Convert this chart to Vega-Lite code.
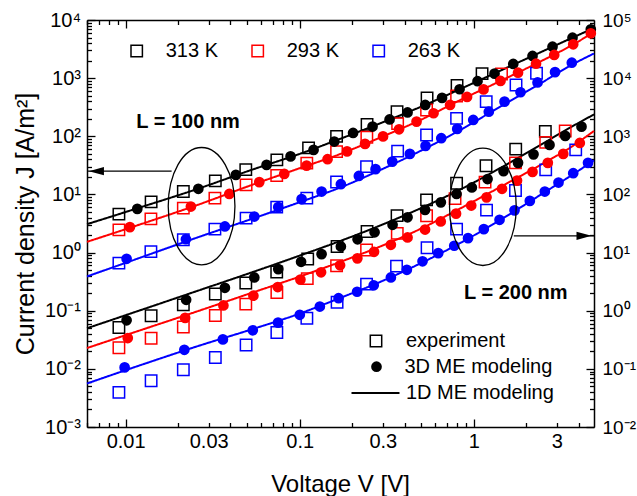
{
"$schema":"https://vega.github.io/schema/vega-lite/v6.json",
"width":507,"height":407,
"autosize":"none",
"padding":{"left":87,"top":20,"right":43,"bottom":69},
"config":{"view":{"stroke":null},"font":"Liberation Sans","mark":{"color":"black"},"legend":{"padding":0,"labelFont":"Liberation Sans","labelColor":"black","labelFontSize":20,"title":null},"axis":{"grid":false,"domainColor":"black","domainWidth":1.5,"tickColor":"black","tickWidth":1.3,"labelColor":"black","labelFont":"Liberation Sans","labelFlush":false,"labelOverlap":false,"labelBound":false,"titleColor":"black","titleFont":"Liberation Sans","titleFontWeight":"normal","zindex":1}},
"data":{"values":[
{"L":100,"T":"313 K","k":"experiment","V":0.00915,"J":4.58},{"L":100,"T":"313 K","k":"experiment","V":0.01401,"J":7.45},{"L":100,"T":"313 K","k":"experiment","V":0.02145,"J":11.2},{"L":100,"T":"313 K","k":"experiment","V":0.03275,"J":17.1},{"L":100,"T":"313 K","k":"experiment","V":0.049,"J":26.7},{"L":100,"T":"313 K","k":"experiment","V":0.0739,"J":39.3},{"L":100,"T":"313 K","k":"experiment","V":0.1124,"J":63.1},{"L":100,"T":"313 K","k":"experiment","V":0.1628,"J":99.5},{"L":100,"T":"313 K","k":"experiment","V":0.2436,"J":160},{"L":100,"T":"313 K","k":"experiment","V":0.3622,"J":265},{"L":100,"T":"313 K","k":"experiment","V":0.5387,"J":457},{"L":100,"T":"313 K","k":"experiment","V":0.8009,"J":748},{"L":100,"T":"313 K","k":"experiment","V":1.115,"J":1194},
{"L":100,"T":"313 K","k":"3D ME modeling","V":0.01167,"J":5.65},{"L":100,"T":"313 K","k":"3D ME modeling","V":0.02616,"J":12.5},{"L":100,"T":"313 K","k":"3D ME modeling","V":0.04298,"J":21.7},{"L":100,"T":"313 K","k":"3D ME modeling","V":0.06451,"J":32.2},{"L":100,"T":"313 K","k":"3D ME modeling","V":0.08859,"J":45.1},{"L":100,"T":"313 K","k":"3D ME modeling","V":0.1201,"J":58.3},{"L":100,"T":"313 K","k":"3D ME modeling","V":0.1579,"J":81.1},{"L":100,"T":"313 K","k":"3D ME modeling","V":0.2025,"J":114},{"L":100,"T":"313 K","k":"3D ME modeling","V":0.262,"J":147},{"L":100,"T":"313 K","k":"3D ME modeling","V":0.3281,"J":195},{"L":100,"T":"313 K","k":"3D ME modeling","V":0.4162,"J":257},{"L":100,"T":"313 K","k":"3D ME modeling","V":0.5259,"J":346},{"L":100,"T":"313 K","k":"3D ME modeling","V":0.6567,"J":457},{"L":100,"T":"313 K","k":"3D ME modeling","V":0.828,"J":644},{"L":100,"T":"313 K","k":"3D ME modeling","V":1.05,"J":887},{"L":100,"T":"313 K","k":"3D ME modeling","V":1.315,"J":1194},{"L":100,"T":"313 K","k":"3D ME modeling","V":1.684,"J":1754},{"L":100,"T":"313 K","k":"3D ME modeling","V":2.173,"J":2406},{"L":100,"T":"313 K","k":"3D ME modeling","V":2.831,"J":3475},{"L":100,"T":"313 K","k":"3D ME modeling","V":3.688,"J":4966},{"L":100,"T":"313 K","k":"3D ME modeling","V":4.697,"J":6920},
{"L":100,"T":"313 K","k":"1D ME modeling","V":0.006,"J":3.08},{"L":100,"T":"313 K","k":"1D ME modeling","V":0.01167,"J":5.77},{"L":100,"T":"313 K","k":"1D ME modeling","V":0.02696,"J":12.97},{"L":100,"T":"313 K","k":"1D ME modeling","V":0.05222,"J":26.1},{"L":100,"T":"313 K","k":"1D ME modeling","V":0.1011,"J":50.4},{"L":100,"T":"313 K","k":"1D ME modeling","V":0.1716,"J":90.9},{"L":100,"T":"313 K","k":"1D ME modeling","V":0.2913,"J":168},{"L":100,"T":"313 K","k":"1D ME modeling","V":0.4943,"J":320},{"L":100,"T":"313 K","k":"1D ME modeling","V":0.8387,"J":652},{"L":100,"T":"313 K","k":"1D ME modeling","V":1.423,"J":1349},{"L":100,"T":"313 K","k":"1D ME modeling","V":2.415,"J":2786},{"L":100,"T":"313 K","k":"1D ME modeling","V":3.592,"J":4790},{"L":100,"T":"313 K","k":"1D ME modeling","V":4.9,"J":7290},
{"L":100,"T":"293 K","k":"experiment","V":0.00915,"J":2.46},{"L":100,"T":"293 K","k":"experiment","V":0.01397,"J":3.8},{"L":100,"T":"293 K","k":"experiment","V":0.02145,"J":5.81},{"L":100,"T":"293 K","k":"experiment","V":0.03257,"J":8.63},{"L":100,"T":"293 K","k":"experiment","V":0.0492,"J":14.6},{"L":100,"T":"293 K","k":"experiment","V":0.07376,"J":21.1},{"L":100,"T":"293 K","k":"experiment","V":0.1098,"J":34.5},{"L":100,"T":"293 K","k":"experiment","V":0.1628,"J":54.5},{"L":100,"T":"293 K","k":"experiment","V":0.2429,"J":96.4},{"L":100,"T":"293 K","k":"experiment","V":0.365,"J":165},{"L":100,"T":"293 K","k":"experiment","V":0.5352,"J":284},{"L":100,"T":"293 K","k":"experiment","V":0.796,"J":494},{"L":100,"T":"293 K","k":"experiment","V":1.442,"J":1180},
{"L":100,"T":"293 K","k":"3D ME modeling","V":0.01058,"J":2.74},{"L":100,"T":"293 K","k":"3D ME modeling","V":0.02371,"J":6.19},{"L":100,"T":"293 K","k":"3D ME modeling","V":0.03939,"J":10.2},{"L":100,"T":"293 K","k":"3D ME modeling","V":0.05857,"J":16.3},{"L":100,"T":"293 K","k":"3D ME modeling","V":0.08151,"J":22.6},{"L":100,"T":"293 K","k":"3D ME modeling","V":0.1095,"J":31.3},{"L":100,"T":"293 K","k":"3D ME modeling","V":0.1445,"J":40.4},{"L":100,"T":"293 K","k":"3D ME modeling","V":0.187,"J":55},{"L":100,"T":"293 K","k":"3D ME modeling","V":0.2372,"J":74},{"L":100,"T":"293 K","k":"3D ME modeling","V":0.301,"J":99.5},{"L":100,"T":"293 K","k":"3D ME modeling","V":0.3719,"J":132},{"L":100,"T":"293 K","k":"3D ME modeling","V":0.4688,"J":179},{"L":100,"T":"293 K","k":"3D ME modeling","V":0.5869,"J":249},{"L":100,"T":"293 K","k":"3D ME modeling","V":0.7303,"J":346},{"L":100,"T":"293 K","k":"3D ME modeling","V":0.9142,"J":475},{"L":100,"T":"293 K","k":"3D ME modeling","V":1.137,"J":640},{"L":100,"T":"293 K","k":"3D ME modeling","V":1.423,"J":895},{"L":100,"T":"293 K","k":"3D ME modeling","V":1.794,"J":1242},{"L":100,"T":"293 K","k":"3D ME modeling","V":2.276,"J":1774},{"L":100,"T":"293 K","k":"3D ME modeling","V":2.895,"J":2504},{"L":100,"T":"293 K","k":"3D ME modeling","V":3.722,"J":3823},{"L":100,"T":"293 K","k":"3D ME modeling","V":4.697,"J":5908},
{"L":100,"T":"293 K","k":"1D ME modeling","V":0.006,"J":1.53},{"L":100,"T":"293 K","k":"1D ME modeling","V":0.01167,"J":2.94},{"L":100,"T":"293 K","k":"1D ME modeling","V":0.02696,"J":6.89},{"L":100,"T":"293 K","k":"1D ME modeling","V":0.05222,"J":14.3},{"L":100,"T":"293 K","k":"1D ME modeling","V":0.1011,"J":28.6},{"L":100,"T":"293 K","k":"1D ME modeling","V":0.1716,"J":49.8},{"L":100,"T":"293 K","k":"1D ME modeling","V":0.2913,"J":95.7},{"L":100,"T":"293 K","k":"1D ME modeling","V":0.4943,"J":191},{"L":100,"T":"293 K","k":"1D ME modeling","V":0.8387,"J":422},{"L":100,"T":"293 K","k":"1D ME modeling","V":1.423,"J":895},{"L":100,"T":"293 K","k":"1D ME modeling","V":2.415,"J":1936},{"L":100,"T":"293 K","k":"1D ME modeling","V":3.592,"J":3575},{"L":100,"T":"293 K","k":"1D ME modeling","V":4.9,"J":6215},
{"L":100,"T":"263 K","k":"experiment","V":0.00915,"J":0.659},{"L":100,"T":"263 K","k":"experiment","V":0.01397,"J":1.04},{"L":100,"T":"263 K","k":"experiment","V":0.02145,"J":1.66},{"L":100,"T":"263 K","k":"experiment","V":0.03257,"J":2.53},{"L":100,"T":"263 K","k":"experiment","V":0.0492,"J":3.91},{"L":100,"T":"263 K","k":"experiment","V":0.07376,"J":6.04},{"L":100,"T":"263 K","k":"experiment","V":0.1098,"J":8.63},{"L":100,"T":"263 K","k":"experiment","V":0.1628,"J":16.4},{"L":100,"T":"263 K","k":"experiment","V":0.242,"J":30.1},{"L":100,"T":"263 K","k":"experiment","V":0.365,"J":55.6},{"L":100,"T":"263 K","k":"experiment","V":0.5352,"J":105},{"L":100,"T":"263 K","k":"experiment","V":0.796,"J":203},{"L":100,"T":"263 K","k":"experiment","V":1.178,"J":394},{"L":100,"T":"263 K","k":"experiment","V":1.747,"J":764},{"L":100,"T":"263 K","k":"experiment","V":2.291,"J":1213},
{"L":100,"T":"263 K","k":"3D ME modeling","V":0.01013,"J":0.781},{"L":100,"T":"263 K","k":"3D ME modeling","V":0.0222,"J":1.7},{"L":100,"T":"263 K","k":"3D ME modeling","V":0.03717,"J":2.81},{"L":100,"T":"263 K","k":"3D ME modeling","V":0.05483,"J":4.17},{"L":100,"T":"263 K","k":"3D ME modeling","V":0.07529,"J":6.04},{"L":100,"T":"263 K","k":"3D ME modeling","V":0.1025,"J":8.29},{"L":100,"T":"263 K","k":"3D ME modeling","V":0.1335,"J":11.2},{"L":100,"T":"263 K","k":"3D ME modeling","V":0.1723,"J":15},{"L":100,"T":"263 K","k":"3D ME modeling","V":0.2186,"J":20.8},{"L":100,"T":"263 K","k":"3D ME modeling","V":0.2726,"J":27.2},{"L":100,"T":"263 K","k":"3D ME modeling","V":0.34,"J":36.7},{"L":100,"T":"263 K","k":"3D ME modeling","V":0.429,"J":49.8},{"L":100,"T":"263 K","k":"3D ME modeling","V":0.528,"J":68.4},{"L":100,"T":"263 K","k":"3D ME modeling","V":0.65,"J":92.7},{"L":100,"T":"263 K","k":"3D ME modeling","V":0.8029,"J":134},{"L":100,"T":"263 K","k":"3D ME modeling","V":0.9921,"J":191},{"L":100,"T":"263 K","k":"3D ME modeling","V":1.219,"J":265},{"L":100,"T":"263 K","k":"3D ME modeling","V":1.501,"J":394},{"L":100,"T":"263 K","k":"3D ME modeling","V":1.854,"J":572},{"L":100,"T":"263 K","k":"3D ME modeling","V":2.322,"J":843},{"L":100,"T":"263 K","k":"3D ME modeling","V":2.927,"J":1267},{"L":100,"T":"263 K","k":"3D ME modeling","V":3.654,"J":1845},
{"L":100,"T":"263 K","k":"1D ME modeling","V":0.006,"J":0.388},{"L":100,"T":"263 K","k":"1D ME modeling","V":0.01167,"J":0.784},{"L":100,"T":"263 K","k":"1D ME modeling","V":0.02696,"J":1.9},{"L":100,"T":"263 K","k":"1D ME modeling","V":0.05222,"J":3.73},{"L":100,"T":"263 K","k":"1D ME modeling","V":0.1011,"J":7.45},{"L":100,"T":"263 K","k":"1D ME modeling","V":0.1716,"J":13.2},{"L":100,"T":"263 K","k":"1D ME modeling","V":0.2913,"J":26.4},{"L":100,"T":"263 K","k":"1D ME modeling","V":0.4943,"J":56.1},{"L":100,"T":"263 K","k":"1D ME modeling","V":0.8387,"J":129},{"L":100,"T":"263 K","k":"1D ME modeling","V":1.423,"J":326},{"L":100,"T":"263 K","k":"1D ME modeling","V":2.415,"J":811},{"L":100,"T":"263 K","k":"1D ME modeling","V":3.592,"J":1652},{"L":100,"T":"263 K","k":"1D ME modeling","V":4.9,"J":2655},
{"L":200,"T":"313 K","k":"experiment","V":0.00915,"J":0.515},{"L":200,"T":"313 K","k":"experiment","V":0.01401,"J":0.818},{"L":200,"T":"313 K","k":"experiment","V":0.02145,"J":1.26},{"L":200,"T":"313 K","k":"experiment","V":0.03275,"J":1.94},{"L":200,"T":"313 K","k":"experiment","V":0.049,"J":2.99},{"L":200,"T":"313 K","k":"experiment","V":0.07376,"J":4.63},{"L":200,"T":"313 K","k":"experiment","V":0.1111,"J":7.74},{"L":200,"T":"313 K","k":"experiment","V":0.1639,"J":12.7},{"L":200,"T":"313 K","k":"experiment","V":0.2436,"J":23},{"L":200,"T":"313 K","k":"experiment","V":0.3622,"J":43.2},{"L":200,"T":"313 K","k":"experiment","V":0.5352,"J":80.7},{"L":200,"T":"313 K","k":"experiment","V":0.796,"J":156},{"L":200,"T":"313 K","k":"experiment","V":1.175,"J":312},{"L":200,"T":"313 K","k":"experiment","V":1.74,"J":602},{"L":200,"T":"313 K","k":"experiment","V":2.574,"J":1213},
{"L":200,"T":"313 K","k":"3D ME modeling","V":0.01013,"J":0.685},{"L":200,"T":"313 K","k":"3D ME modeling","V":0.02226,"J":1.54},{"L":200,"T":"313 K","k":"3D ME modeling","V":0.03717,"J":2.48},{"L":200,"T":"313 K","k":"3D ME modeling","V":0.05483,"J":3.73},{"L":200,"T":"313 K","k":"3D ME modeling","V":0.07529,"J":5.2},{"L":200,"T":"313 K","k":"3D ME modeling","V":0.1018,"J":6.94},{"L":200,"T":"313 K","k":"3D ME modeling","V":0.1335,"J":9.41},{"L":200,"T":"313 K","k":"3D ME modeling","V":0.1723,"J":12.7},{"L":200,"T":"313 K","k":"3D ME modeling","V":0.2149,"J":16.9},{"L":200,"T":"313 K","k":"3D ME modeling","V":0.2691,"J":22.3},{"L":200,"T":"313 K","k":"3D ME modeling","V":0.3414,"J":30},{"L":200,"T":"313 K","k":"3D ME modeling","V":0.4162,"J":40.4},{"L":200,"T":"313 K","k":"3D ME modeling","V":0.5246,"J":54.3},{"L":200,"T":"313 K","k":"3D ME modeling","V":0.6465,"J":73.1},{"L":200,"T":"313 K","k":"3D ME modeling","V":0.7956,"J":102},{"L":200,"T":"313 K","k":"3D ME modeling","V":0.9739,"J":132},{"L":200,"T":"313 K","k":"3D ME modeling","V":1.199,"J":184},{"L":200,"T":"313 K","k":"3D ME modeling","V":1.481,"J":252},{"L":200,"T":"313 K","k":"3D ME modeling","V":1.794,"J":349},{"L":200,"T":"313 K","k":"3D ME modeling","V":2.202,"J":489},{"L":200,"T":"313 K","k":"3D ME modeling","V":2.721,"J":711},{"L":200,"T":"313 K","k":"3D ME modeling","V":3.349,"J":1016},{"L":200,"T":"313 K","k":"3D ME modeling","V":4.153,"J":1466},
{"L":200,"T":"313 K","k":"1D ME modeling","V":0.006,"J":0.499},{"L":200,"T":"313 K","k":"1D ME modeling","V":0.01167,"J":0.979},{"L":200,"T":"313 K","k":"1D ME modeling","V":0.02696,"J":2.29},{"L":200,"T":"313 K","k":"1D ME modeling","V":0.05222,"J":4.49},{"L":200,"T":"313 K","k":"1D ME modeling","V":0.1011,"J":8.97},{"L":200,"T":"313 K","k":"1D ME modeling","V":0.1716,"J":15.9},{"L":200,"T":"313 K","k":"1D ME modeling","V":0.2913,"J":29.4},{"L":200,"T":"313 K","k":"1D ME modeling","V":0.4943,"J":57.7},{"L":200,"T":"313 K","k":"1D ME modeling","V":0.8387,"J":122},{"L":200,"T":"313 K","k":"1D ME modeling","V":1.423,"J":286},{"L":200,"T":"313 K","k":"1D ME modeling","V":2.415,"J":711},{"L":200,"T":"313 K","k":"1D ME modeling","V":3.592,"J":1422},{"L":200,"T":"313 K","k":"1D ME modeling","V":4.9,"J":2377},
{"L":200,"T":"293 K","k":"experiment","V":0.00915,"J":0.231},{"L":200,"T":"293 K","k":"experiment","V":0.01401,"J":0.336},{"L":200,"T":"293 K","k":"experiment","V":0.02145,"J":0.526},{"L":200,"T":"293 K","k":"experiment","V":0.03275,"J":0.826},{"L":200,"T":"293 K","k":"experiment","V":0.049,"J":1.3},{"L":200,"T":"293 K","k":"experiment","V":0.0739,"J":2.06},{"L":200,"T":"293 K","k":"experiment","V":0.1105,"J":3.56},{"L":200,"T":"293 K","k":"experiment","V":0.1628,"J":5.92},{"L":200,"T":"293 K","k":"experiment","V":0.242,"J":11.1},{"L":200,"T":"293 K","k":"experiment","V":0.3633,"J":21.4},{"L":200,"T":"293 K","k":"experiment","V":0.5352,"J":42.9},{"L":200,"T":"293 K","k":"experiment","V":0.7799,"J":84.6},{"L":200,"T":"293 K","k":"experiment","V":1.16,"J":163},{"L":200,"T":"293 K","k":"experiment","V":1.735,"J":349},{"L":200,"T":"293 K","k":"experiment","V":2.587,"J":785},{"L":200,"T":"293 K","k":"experiment","V":3.349,"J":1236},
{"L":200,"T":"293 K","k":"3D ME modeling","V":0.01029,"J":0.339},{"L":200,"T":"293 K","k":"3D ME modeling","V":0.02197,"J":0.753},{"L":200,"T":"293 K","k":"3D ME modeling","V":0.03644,"J":1.23},{"L":200,"T":"293 K","k":"3D ME modeling","V":0.05418,"J":1.81},{"L":200,"T":"293 K","k":"3D ME modeling","V":0.07481,"J":2.55},{"L":200,"T":"293 K","k":"3D ME modeling","V":0.1009,"J":3.43},{"L":200,"T":"293 K","k":"3D ME modeling","V":0.1326,"J":4.58},{"L":200,"T":"293 K","k":"3D ME modeling","V":0.1705,"J":6.04},{"L":200,"T":"293 K","k":"3D ME modeling","V":0.2143,"J":7.96},{"L":200,"T":"293 K","k":"3D ME modeling","V":0.2672,"J":10.3},{"L":200,"T":"293 K","k":"3D ME modeling","V":0.3338,"J":13.6},{"L":200,"T":"293 K","k":"3D ME modeling","V":0.4162,"J":18.2},{"L":200,"T":"293 K","k":"3D ME modeling","V":0.5246,"J":24.9},{"L":200,"T":"293 K","k":"3D ME modeling","V":0.6456,"J":34.3},{"L":200,"T":"293 K","k":"3D ME modeling","V":0.7903,"J":46.7},{"L":200,"T":"293 K","k":"3D ME modeling","V":0.9662,"J":64.4},{"L":200,"T":"293 K","k":"3D ME modeling","V":1.183,"J":89.1},{"L":200,"T":"293 K","k":"3D ME modeling","V":1.452,"J":125},{"L":200,"T":"293 K","k":"3D ME modeling","V":1.77,"J":173},{"L":200,"T":"293 K","k":"3D ME modeling","V":2.173,"J":244},{"L":200,"T":"293 K","k":"3D ME modeling","V":2.66,"J":349},{"L":200,"T":"293 K","k":"3D ME modeling","V":3.262,"J":498},{"L":200,"T":"293 K","k":"3D ME modeling","V":4.062,"J":769},
{"L":200,"T":"293 K","k":"1D ME modeling","V":0.006,"J":0.228},{"L":200,"T":"293 K","k":"1D ME modeling","V":0.01167,"J":0.443},{"L":200,"T":"293 K","k":"1D ME modeling","V":0.02696,"J":1.02},{"L":200,"T":"293 K","k":"1D ME modeling","V":0.05222,"J":2},{"L":200,"T":"293 K","k":"1D ME modeling","V":0.1011,"J":3.91},{"L":200,"T":"293 K","k":"1D ME modeling","V":0.1716,"J":6.94},{"L":200,"T":"293 K","k":"1D ME modeling","V":0.2913,"J":12.8},{"L":200,"T":"293 K","k":"1D ME modeling","V":0.4943,"J":25.6},{"L":200,"T":"293 K","k":"1D ME modeling","V":0.8387,"J":57.7},{"L":200,"T":"293 K","k":"1D ME modeling","V":1.423,"J":135},{"L":200,"T":"293 K","k":"1D ME modeling","V":2.415,"J":322},{"L":200,"T":"293 K","k":"1D ME modeling","V":3.592,"J":644},{"L":200,"T":"293 K","k":"1D ME modeling","V":4.9,"J":1236},
{"L":200,"T":"263 K","k":"experiment","V":0.00915,"J":0.0394},{"L":200,"T":"263 K","k":"experiment","V":0.01401,"J":0.0625},{"L":200,"T":"263 K","k":"experiment","V":0.02145,"J":0.0966},{"L":200,"T":"263 K","k":"experiment","V":0.03275,"J":0.157},{"L":200,"T":"263 K","k":"experiment","V":0.0492,"J":0.258},{"L":200,"T":"263 K","k":"experiment","V":0.0739,"J":0.423},{"L":200,"T":"263 K","k":"experiment","V":0.1099,"J":0.741},{"L":200,"T":"263 K","k":"experiment","V":0.1639,"J":1.4},{"L":200,"T":"263 K","k":"experiment","V":0.242,"J":2.87},{"L":200,"T":"263 K","k":"experiment","V":0.3597,"J":5.85},{"L":200,"T":"263 K","k":"experiment","V":0.5387,"J":12.1},{"L":200,"T":"263 K","k":"experiment","V":0.796,"J":25.3},{"L":200,"T":"263 K","k":"experiment","V":1.183,"J":53.7},{"L":200,"T":"263 K","k":"experiment","V":1.735,"J":117},{"L":200,"T":"263 K","k":"experiment","V":2.587,"J":264},{"L":200,"T":"263 K","k":"experiment","V":3.847,"J":583},
{"L":200,"T":"263 K","k":"3D ME modeling","V":0.00987,"J":0.106},{"L":200,"T":"263 K","k":"3D ME modeling","V":0.02174,"J":0.213},{"L":200,"T":"263 K","k":"3D ME modeling","V":0.0362,"J":0.321},{"L":200,"T":"263 K","k":"3D ME modeling","V":0.05375,"J":0.461},{"L":200,"T":"263 K","k":"3D ME modeling","V":0.0751,"J":0.625},{"L":200,"T":"263 K","k":"3D ME modeling","V":0.1001,"J":0.851},{"L":200,"T":"263 K","k":"3D ME modeling","V":0.1305,"J":1.18},{"L":200,"T":"263 K","k":"3D ME modeling","V":0.1671,"J":1.64},{"L":200,"T":"263 K","k":"3D ME modeling","V":0.2135,"J":2.12},{"L":200,"T":"263 K","k":"3D ME modeling","V":0.2661,"J":2.74},{"L":200,"T":"263 K","k":"3D ME modeling","V":0.3338,"J":3.73},{"L":200,"T":"263 K","k":"3D ME modeling","V":0.4124,"J":5.06},{"L":200,"T":"263 K","k":"3D ME modeling","V":0.5074,"J":7.08},{"L":200,"T":"263 K","k":"3D ME modeling","V":0.6245,"J":9.79},{"L":200,"T":"263 K","k":"3D ME modeling","V":0.7718,"J":13.1},{"L":200,"T":"263 K","k":"3D ME modeling","V":0.9262,"J":17.7},{"L":200,"T":"263 K","k":"3D ME modeling","V":1.141,"J":25.3},{"L":200,"T":"263 K","k":"3D ME modeling","V":1.405,"J":36.6},{"L":200,"T":"263 K","k":"3D ME modeling","V":1.713,"J":53.2},{"L":200,"T":"263 K","k":"3D ME modeling","V":2.097,"J":77.4},{"L":200,"T":"263 K","k":"3D ME modeling","V":2.557,"J":112},{"L":200,"T":"263 K","k":"3D ME modeling","V":3.064,"J":160},{"L":200,"T":"263 K","k":"3D ME modeling","V":3.722,"J":232},{"L":200,"T":"263 K","k":"3D ME modeling","V":4.527,"J":349},
{"L":200,"T":"263 K","k":"1D ME modeling","V":0.006,"J":0.056},{"L":200,"T":"263 K","k":"1D ME modeling","V":0.01167,"J":0.111},{"L":200,"T":"263 K","k":"1D ME modeling","V":0.02696,"J":0.255},{"L":200,"T":"263 K","k":"1D ME modeling","V":0.05222,"J":0.471},{"L":200,"T":"263 K","k":"1D ME modeling","V":0.1011,"J":0.904},{"L":200,"T":"263 K","k":"1D ME modeling","V":0.1716,"J":1.67},{"L":200,"T":"263 K","k":"1D ME modeling","V":0.2913,"J":3.15},{"L":200,"T":"263 K","k":"1D ME modeling","V":0.4943,"J":6.53},{"L":200,"T":"263 K","k":"1D ME modeling","V":0.8387,"J":14.7},{"L":200,"T":"263 K","k":"1D ME modeling","V":1.423,"J":36.6},{"L":200,"T":"263 K","k":"1D ME modeling","V":2.415,"J":98.4},{"L":200,"T":"263 K","k":"1D ME modeling","V":3.592,"J":208},{"L":200,"T":"263 K","k":"1D ME modeling","V":4.9,"J":385}
]},
"resolve":{"scale":{"y":"independent"},"axis":{"x":"independent","y":"independent"}},
"layer":[
{"transform":[{"filter":"datum.L==100 && datum.k=='1D ME modeling'"}],
 "mark":{"type":"line","strokeWidth":2,"interpolate":"monotone"},
 "encoding":{
  "x":{"field":"V","type":"quantitative","scale":{"type":"log","domain":[0.006,4.9],"nice":false},
   "axis":{"orient":"bottom","values":[0.006,0.007,0.008,0.009,0.01,0.02,0.03,0.04,0.05,0.06,0.07,0.08,0.09,0.1,0.2,0.3,0.4,0.5,0.6,0.7,0.8,0.9,1,2,3,4],
    "tickSize":{"condition":{"test":"indexof([0.01,0.1,1],datum.value)>=0","value":-8},"value":-4.5},
    "labelPadding":{"condition":{"test":"indexof([0.01,0.1,1],datum.value)>=0","value":12},"value":8.5},
    "labelExpr":"indexof([0.01,0.03,0.1,0.3,1,3],datum.value)>=0 ? format(datum.value,'~g') : ''",
    "labelFontSize":20,"title":"Voltage V [V]","titleFontSize":24,"titleBaseline":"alphabetic","titleX":253,"titleY":64}},
  "y":{"field":"J","type":"quantitative","scale":{"type":"log","domain":[0.001,10000],"nice":false},
   "axis":{"orient":"left","values":[0.001,0.002,0.003,0.004,0.005,0.006,0.007,0.008,0.009,0.01,0.02,0.03,0.04,0.05,0.06,0.07,0.08,0.09,0.1,0.2,0.3,0.4,0.5,0.6,0.7,0.8,0.9,1,2,3,4,5,6,7,8,9,10,20,30,40,50,60,70,80,90,100,200,300,400,500,600,700,800,900,1000,2000,3000,4000,5000,6000,7000,8000,9000,10000],
    "tickSize":{"condition":{"test":"abs(log(datum.value)/LN10-round(log(datum.value)/LN10))<0.000001","value":-8},"value":-4.5},
    "labelPadding":14.5,
    "labelExpr":"abs(log(datum.value)/LN10-round(log(datum.value)/LN10))<0.000001 ? '10'+['⁻³','⁻²','⁻¹','⁰','¹','²','³','⁴','⁵'][round(log(datum.value)/LN10)+3] : ''",
    "labelFontSize":20,"title":"Current density J [A/m²]","titleFontSize":25,"titleBaseline":"alphabetic","titleAngle":-90,"titleX":-54,"titleY":203.5}},
  "stroke":{"field":"T","type":"nominal","scale":{"domain":["293 K","313 K","263 K"],"range":["#ff0000","#000000","#0000ff"]},"legend":null},
  "strokeDash":{"field":"k","type":"nominal","scale":{"domain":["1D ME modeling"],"range":[[1,0]]},
   "legend":{"orient":"none","legendX":263.5,"legendY":348,"symbolType":"stroke","symbolSize":2304,"symbolStrokeWidth":2,"symbolStrokeColor":"black","labelOffset":5.5}}}},
{"transform":[{"filter":"datum.L==100 && datum.k=='experiment'"}],
 "mark":{"type":"point","filled":false,"size":130,"strokeWidth":1.5,"opacity":1},
 "encoding":{
  "x":{"field":"V","type":"quantitative","scale":{"type":"log","domain":[0.006,4.9],"nice":false},
   "axis":{"orient":"top","values":[0.006,0.007,0.008,0.009,0.01,0.02,0.03,0.04,0.05,0.06,0.07,0.08,0.09,0.1,0.2,0.3,0.4,0.5,0.6,0.7,0.8,0.9,1,2,3,4],
    "tickSize":{"condition":{"test":"indexof([0.01,0.1,1],datum.value)>=0","value":-8},"value":-4.5},
    "labels":false,"title":null}},
  "y":{"field":"J","type":"quantitative","scale":{"type":"log","domain":[0.001,10000],"nice":false},"axis":null},
  "color":{"field":"T","type":"nominal","scale":{"domain":["313 K","293 K","263 K"],"range":["#000000","#ff0000","#0000ff"]},
   "legend":{"orient":"none","legendX":39.7,"legendY":21,"direction":"horizontal","symbolType":"square","symbolSize":130,"symbolStrokeWidth":1.5,"symbolFillColor":"transparent","labelOffset":19,"columnPadding":29}},
  "shape":{"field":"k","type":"nominal","scale":{"domain":["experiment"],"range":["square"]},
   "legend":{"orient":"none","legendX":279,"legendY":311,"symbolSize":130,"symbolStrokeWidth":1.5,"symbolStrokeColor":"black","symbolFillColor":"transparent","labelOffset":20}}}},
{"transform":[{"filter":"datum.L==100 && datum.k=='3D ME modeling'"}],
 "mark":{"type":"circle","opacity":1},
 "encoding":{
  "x":{"field":"V","type":"quantitative","scale":{"type":"log","domain":[0.006,4.9],"nice":false},"axis":null},
  "y":{"field":"J","type":"quantitative","scale":{"type":"log","domain":[0.001,10000],"nice":false},"axis":null},
  "fill":{"field":"T","type":"nominal","scale":{"domain":["263 K","293 K","313 K"],"range":["#0000ff","#ff0000","#000000"]},"legend":null},
  "size":{"field":"k","type":"ordinal","scale":{"domain":["3D ME modeling"],"range":[115,115]},
   "legend":{"orient":"none","legendX":279.5,"legendY":336.7,"symbolType":"circle","symbolFillColor":"black","symbolStrokeColor":"transparent","labelOffset":18}}}},
{"transform":[{"filter":"datum.L==200 && datum.k=='1D ME modeling'"}],
 "mark":{"type":"line","strokeWidth":2,"interpolate":"monotone"},
 "encoding":{
  "x":{"field":"V","type":"quantitative","scale":{"type":"log","domain":[0.006,4.9],"nice":false},"axis":null},
  "y":{"field":"J","type":"quantitative","scale":{"type":"log","domain":[0.01,100000],"nice":false},
   "axis":{"orient":"right","values":[0.01,0.02,0.03,0.04,0.05,0.06,0.07,0.08,0.09,0.1,0.2,0.3,0.4,0.5,0.6,0.7,0.8,0.9,1,2,3,4,5,6,7,8,9,10,20,30,40,50,60,70,80,90,100,200,300,400,500,600,700,800,900,1000,2000,3000,4000,5000,6000,7000,8000,9000,10000,20000,30000,40000,50000,60000,70000,80000,90000,100000],
    "tickSize":{"condition":{"test":"abs(log(datum.value)/LN10-round(log(datum.value)/LN10))<0.000001","value":-8},"value":-4.5},
    "labelPadding":16,
    "labelExpr":"abs(log(datum.value)/LN10-round(log(datum.value)/LN10))<0.000001 ? '10'+['⁻³','⁻²','⁻¹','⁰','¹','²','³','⁴','⁵'][round(log(datum.value)/LN10)+3] : ''",
    "labelFontSize":19,"title":null}},
  "stroke":{"field":"T","type":"nominal","scale":{"domain":["293 K","313 K","263 K"],"range":["#ff0000","#000000","#0000ff"]},"legend":null},
  "strokeDash":{"field":"k","type":"nominal","scale":{"domain":["1D ME modeling"],"range":[[1,0]]}}}},
{"transform":[{"filter":"datum.L==200 && datum.k=='experiment'"}],
 "mark":{"type":"point","filled":false,"size":130,"strokeWidth":1.5,"opacity":1},
 "encoding":{
  "x":{"field":"V","type":"quantitative","scale":{"type":"log","domain":[0.006,4.9],"nice":false},"axis":null},
  "y":{"field":"J","type":"quantitative","scale":{"type":"log","domain":[0.01,100000],"nice":false},"axis":null},
  "color":{"field":"T","type":"nominal","scale":{"domain":["313 K","293 K","263 K"],"range":["#000000","#ff0000","#0000ff"]}},
  "shape":{"field":"k","type":"nominal","scale":{"domain":["experiment"],"range":["square"]}}}},
{"transform":[{"filter":"datum.L==200 && datum.k=='3D ME modeling'"}],
 "mark":{"type":"circle","opacity":1},
 "encoding":{
  "x":{"field":"V","type":"quantitative","scale":{"type":"log","domain":[0.006,4.9],"nice":false},"axis":null},
  "y":{"field":"J","type":"quantitative","scale":{"type":"log","domain":[0.01,100000],"nice":false},"axis":null},
  "fill":{"field":"T","type":"nominal","scale":{"domain":["263 K","293 K","313 K"],"range":["#0000ff","#ff0000","#000000"]},"legend":null},
  "size":{"field":"k","type":"ordinal","scale":{"domain":["3D ME modeling"],"range":[115,115]}}}},
{"data":{"values":[{"V":0.02731,"J":6.29},{"V":1.127,"J":6.11}]},
 "mark":{"type":"point","shape":"M -0.5686 0 A 0.5686 1 0 1 0 0.5686 0 A 0.5686 1 0 1 0 -0.5686 0 Z","size":13759,"filled":false,"color":"black","strokeWidth":1.3,"opacity":1},
 "encoding":{
  "x":{"field":"V","type":"quantitative","scale":{"type":"log","domain":[0.006,4.9],"nice":false},"axis":null},
  "y":{"field":"J","type":"quantitative","scale":{"type":"log","domain":[0.001,10000],"nice":false},"axis":null}}},
{"data":{"values":[{"V":0.006,"V2":0.01837,"J":25.1},{"V":1.697,"V2":4.9,"J":1.94}]},
 "mark":{"type":"rule","color":"black","strokeWidth":1.3},
 "encoding":{
  "x":{"field":"V","type":"quantitative","scale":{"type":"log","domain":[0.006,4.9],"nice":false},"axis":null},
  "x2":{"field":"V2"},
  "y":{"field":"J","type":"quantitative","scale":{"type":"log","domain":[0.001,10000],"nice":false},"axis":null}}},
{"data":{"values":[{"V":0.006795,"J":25.1}]},
 "mark":{"type":"point","shape":"M -1 0 L 1 -0.55 L 1 0.55 Z","size":225,"filled":true,"color":"black","opacity":1},
 "encoding":{
  "x":{"field":"V","type":"quantitative","scale":{"type":"log","domain":[0.006,4.9],"nice":false},"axis":null},
  "y":{"field":"J","type":"quantitative","scale":{"type":"log","domain":[0.001,10000],"nice":false},"axis":null}}},
{"data":{"values":[{"V":4.293,"J":1.94}]},
 "mark":{"type":"point","shape":"M 1 0 L -1 -0.55 L -1 0.55 Z","size":225,"filled":true,"color":"black","opacity":1},
 "encoding":{
  "x":{"field":"V","type":"quantitative","scale":{"type":"log","domain":[0.006,4.9],"nice":false},"axis":null},
  "y":{"field":"J","type":"quantitative","scale":{"type":"log","domain":[0.001,10000],"nice":false},"axis":null}}},
{"data":{"values":[{"V":0.02285,"J":179,"t":"L = 100 nm"},{"V":1.742,"J":0.198,"t":"L = 200 nm"}]},
 "mark":{"type":"text","font":"Liberation Sans","fontSize":20,"fontWeight":"bold","align":"center","baseline":"middle","color":"black"},
 "encoding":{
  "x":{"field":"V","type":"quantitative","scale":{"type":"log","domain":[0.006,4.9],"nice":false},"axis":null},
  "y":{"field":"J","type":"quantitative","scale":{"type":"log","domain":[0.001,10000],"nice":false},"axis":null},
  "text":{"field":"t"}}}
]
}
